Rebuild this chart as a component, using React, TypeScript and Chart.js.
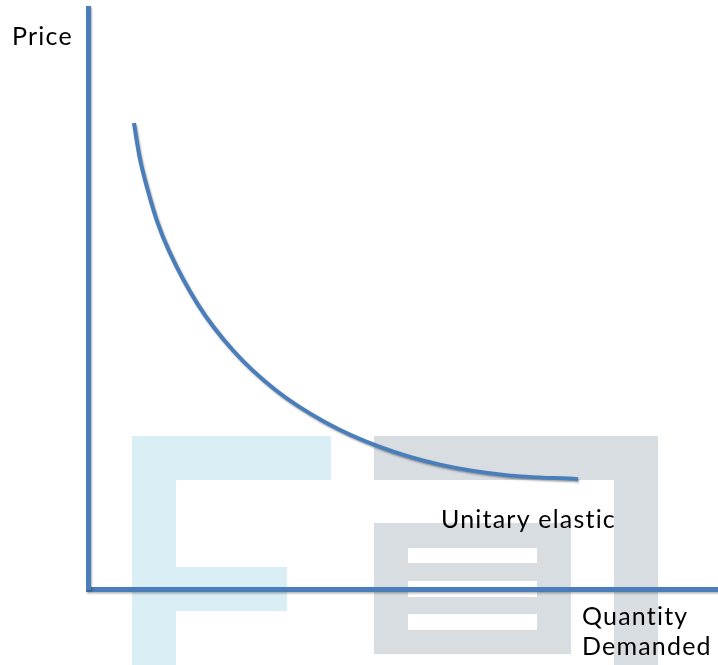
import React, { useEffect, useRef } from "react";
import { Chart, registerables } from "chart.js";

Chart.register(...registerables);

// Demand curve (unitary elastic) — quantity and price readings
const quantity = [1.02, 1.15, 1.33, 1.54, 1.8, 2.44, 3.23, 4.16, 5.25, 6.47, 7.82, 9.29, 10.89];
const price = [8.02, 7.42, 6.86, 6.32, 5.82, 4.9, 4.1, 3.43, 2.88, 2.45, 2.14, 1.96, 1.89];

const yAxisLabel = "Price";
const xAxisLabel = ["Quantity", "Demanded"];
const curveLabel = "Unitary elastic";

const LINE_BLUE = "rgb(74,126,187)";
const FONT = "Lato, 'Open Sans', sans-serif";

const watermarkPlugin = {
  id: "watermark",
  beforeDraw(chart: any) {
    const ctx = chart.ctx;
    ctx.save();
    const blue = "rgb(218,238,245)";
    const gray = "rgb(216,221,226)";
    const rect = (x1: number, y1: number, x2: number, y2: number, c: string) => {
      ctx.fillStyle = c;
      ctx.fillRect(x1, y1, x2 - x1, y2 - y1);
    };
    // light blue "F"
    rect(132, 436, 176, 665, blue);
    rect(176, 436, 331, 480, blue);
    rect(176, 567, 287, 611, blue);
    // gray shape
    rect(374, 436, 658, 480, gray);
    rect(614, 480, 658, 665, gray);
    rect(374, 523, 571, 654, gray);
    rect(408, 548, 537, 563, "#ffffff");
    rect(408, 581, 537, 597, "#ffffff");
    rect(408, 614, 537, 630, "#ffffff");
    ctx.restore();
    // shadow for the axis lines drawn next
    ctx.save();
    ctx.shadowColor = "rgba(0,0,0,0.3)";
    ctx.shadowBlur = 2;
    ctx.shadowOffsetX = 1;
    ctx.shadowOffsetY = 1.5;
  },
  beforeDatasetsDraw(chart: any) {
    chart.ctx.restore();
  },
};

const shadowPlugin = {
  id: "lineShadow",
  beforeDatasetDraw(chart: any) {
    const ctx = chart.ctx;
    ctx.save();
    ctx.shadowColor = "rgba(0,0,0,0.35)";
    ctx.shadowBlur = 2;
    ctx.shadowOffsetX = 1;
    ctx.shadowOffsetY = 1.5;
  },
  afterDatasetDraw(chart: any) {
    chart.ctx.restore();
  },
};

const labelsPlugin = {
  id: "labels",
  afterDraw(chart: any) {
    const ctx = chart.ctx;
    const { left, bottom } = chart.chartArea;
    ctx.save();
    ctx.fillStyle = "#000";
    ctx.font = `25px ${FONT}`;
    (ctx as any).letterSpacing = "1.2px";
    ctx.textBaseline = "alphabetic";
    ctx.textAlign = "left";
    ctx.fillText(yAxisLabel, left - 76, 45);
    ctx.fillText(curveLabel, 441, 528);
    ctx.fillText(xAxisLabel[0], 582, bottom + 36);
    ctx.fillText(xAxisLabel[1], 582, bottom + 66);
    ctx.restore();
  },
};

export default function App() {
  const ref = useRef<HTMLCanvasElement | null>(null);
  useEffect(() => {
    document.body.style.margin = "0";
    if (!ref.current) return;
    const chart = new Chart(ref.current, {
      type: "line",
      data: {
        datasets: [
          {
            label: curveLabel,
            data: quantity.map((q, i) => ({ x: q, y: price[i] })),
            borderColor: LINE_BLUE,
            borderWidth: 4,
            pointRadius: 0,
            cubicInterpolationMode: "monotone",
            borderCapStyle: "butt",
            fill: false,
          },
        ],
      },
      options: {
        animation: false,
        responsive: false,
        maintainAspectRatio: false,
        layout: { padding: { left: 88, top: 8, right: 0, bottom: 76 } },
        plugins: { legend: { display: false }, tooltip: { enabled: false } },
        scales: {
          x: {
            type: "linear",
            min: 0,
            max: 14,
            ticks: { display: false },
            grid: { display: false, drawTicks: false },
            border: { display: true, color: LINE_BLUE, width: 5 },
          },
          y: {
            type: "linear",
            min: 0,
            max: 10,
            ticks: { display: false },
            grid: { display: false, drawTicks: false },
            border: { display: true, color: LINE_BLUE, width: 5 },
          },
        },
      },
      plugins: [watermarkPlugin, shadowPlugin, labelsPlugin],
    } as any);
    return () => chart.destroy();
  }, []);
  return (
    <div style={{ position: "absolute", left: 0, top: 0, width: 718, height: 665 }}>
      <canvas ref={ref} width={718} height={665} style={{ display: "block" }} />
    </div>
  );
}
